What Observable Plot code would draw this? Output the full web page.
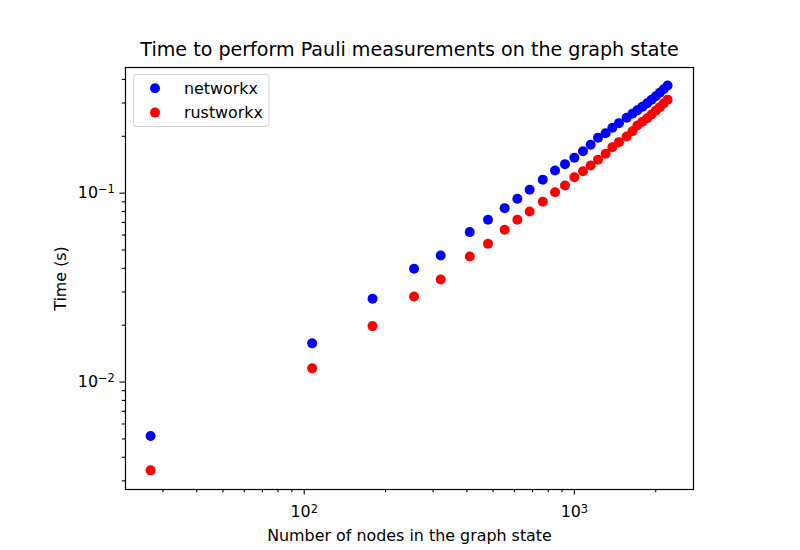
<!DOCTYPE html>
<html>
<head>
<meta charset="utf-8">
<script src="https://cdn.jsdelivr.net/npm/d3@7"></script>
<script src="https://cdn.jsdelivr.net/npm/@observablehq/plot@0.6"></script>
<style>
  html, body { margin: 0; padding: 0; background: #fff; }
  #chart { width: 800px; height: 550px; }
</style>
</head>
<body>
<div id="chart"></div>
<script>
// ---- data ----
const nodes = [27,107,179,255,320,410,479,552,615,683,764,848,923,1000,1076,1149,1223,1305,1382,1462,1561,1640,1710,1785,1860,1930,2000,2070,2140,2213];
const networkxTime = [0.00518,0.01603,0.02762,0.0398,0.0468,0.0622,0.0723,0.0833,0.0934,0.1042,0.1179,0.1318,0.1424,0.1539,0.1668,0.1804,0.1964,0.2077,0.2218,0.2347,0.2506,0.263,0.2746,0.2865,0.2990,0.3120,0.3256,0.3398,0.3550,0.3713];
const rustworkxTime = [0.00341,0.01182,0.01978,0.0284,0.0349,0.0462,0.0540,0.0640,0.0723,0.0800,0.0901,0.1012,0.1098,0.1215,0.1307,0.1401,0.1502,0.1616,0.1751,0.1862,0.1995,0.2128,0.2282,0.2387,0.2494,0.2609,0.2729,0.2852,0.2984,0.3120];
const seriesNames = ["networkx", "rustworkx"];
const seriesColors = ["blue", "red"];
const xMajorTicks = [100, 1000];
const xMajorExponents = ["2", "3"];
const xMinorTicks = [30,40,50,60,70,80,90,200,300,400,500,600,700,800,900,2000];
const yMajorTicks = [0.01, 0.1];
const yMajorExponents = ["−2", "−1"];
const yMinorTicks = [0.003,0.004,0.005,0.006,0.007,0.008,0.009,0.02,0.03,0.04,0.05,0.06,0.07,0.08,0.09,0.2,0.3,0.4];
const titleText = "Time to perform Pauli measurements on the graph state";
const xLabel = "Number of nodes in the graph state";
const yLabel = "Time (s)";

const rows = [];
seriesNames.forEach((s, i) => {
  const ys = i === 0 ? networkxTime : rustworkxTime;
  nodes.forEach((n, j) => rows.push({series: s, n, t: ys[j]}));
});

const font = "DejaVu Sans, sans-serif";
const fs = 15.9;
const chart = Plot.plot({
  width: 800,
  height: 550,
  marginTop: 67,
  marginRight: 107,
  marginBottom: 61,
  marginLeft: 125,
  style: {fontFamily: font, fontSize: fs + "px", color: "black", background: "white"},
  x: {type: "log", domain: [21.8, 2760]},
  y: {type: "log", domain: [0.0027, 0.4625]},
  color: {domain: seriesNames, range: seriesColors},
  marks: [
    Plot.axisX(xMinorTicks, {tickSize: 3.2, tickFormat: () => "", label: null, strokeWidth: 1.1}),
    Plot.axisX(xMajorTicks, {tickSize: 5.6, tickPadding: 11, strokeWidth: 1.1,
      tickFormat: (d) => "10^" + xMajorExponents[xMajorTicks.indexOf(d)],
      label: xLabel, labelAnchor: "center", labelOffset: 51, labelArrow: "none", fontSize: fs}),
    Plot.axisY(yMinorTicks, {tickSize: 3.2, tickFormat: () => "", label: null, strokeWidth: 1.1}),
    Plot.axisY(yMajorTicks, {tickSize: 5.6, tickPadding: 5, strokeWidth: 1.1,
      tickFormat: (d) => "10^" + yMajorExponents[yMajorTicks.indexOf(d)],
      label: yLabel, labelAnchor: "center", labelOffset: 71, labelArrow: "none", fontSize: fs}),
    Plot.dot(rows, {x: "n", y: "t", fill: "series", r: 5, stroke: "none"}),
    Plot.frame({stroke: "black", strokeWidth: 1.2}),
    Plot.text([titleText], {frameAnchor: "top", dy: -18, fontSize: 19.1, lineAnchor: "middle"}),
  ]
});
document.getElementById("chart").appendChild(chart);

const svg = d3.select(chart);
// render "10^e" tick labels as 10 with a raised, smaller exponent (mathtext style)
svg.selectAll("text").each(function() {
  const el = d3.select(this);
  const t = this.textContent;
  const m = /^10\^(.+)$/.exec(t);
  if (!m) return;
  const tspans = el.selectAll("tspan");
  const target = tspans.empty() ? el : d3.select(tspans.nodes()[0]);
  target.text("10");
  target.append("tspan").attr("dy", "-0.42em").attr("font-size", (fs * 0.72) + "px").text(m[1]);
});

// legend
const lg = svg.append("g");
lg.append("rect").attr("x", 133.5).attr("y", 74.5).attr("width", 135.5).attr("height", 52)
  .attr("rx", 3).attr("fill", "white").attr("fill-opacity", 0.8).attr("stroke", "#d0d0d0");
seriesNames.forEach((s, i) => {
  lg.append("circle").attr("cx", 155).attr("cy", 88.3 + i * 24.3).attr("r", 5).attr("fill", seriesColors[i]);
  lg.append("text").attr("x", 184).attr("y", 88.3 + i * 24.3).attr("dy", "0.35em")
    .attr("text-anchor", "start")
    .attr("font-family", font).attr("font-size", fs + "px").attr("fill", "black").text(s);
});
</script>
</body>
</html>
